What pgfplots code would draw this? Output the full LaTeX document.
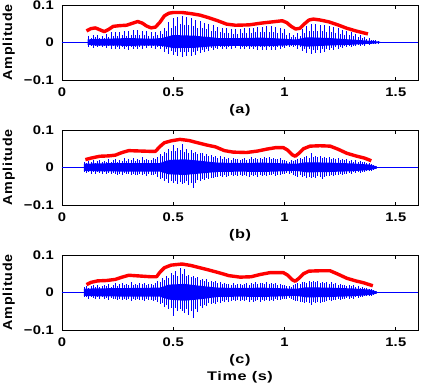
\documentclass[border=0pt]{standalone}
\usepackage{pgfplots}
\pgfplotsset{compat=1.18}
\usepackage{pgfplotstable}
\usepackage{fontspec}
\setmainfont{Liberation Sans}
\newfontfamily\tickfont{Liberation Sans}[FakeStretch=1.18, LetterSpace=2]
\newfontfamily\labfont{Liberation Sans}[FakeStretch=1.3, LetterSpace=5]
\newfontfamily\ylabfont{Liberation Sans}[FakeStretch=1.1, LetterSpace=6]

% peaks of the waveform: x, upper, lower
\pgfplotstableread[row sep=\\]{
x hi lo\\
0.12 0.018 -0.012\\ 0.13 0.012 -0.008\\ 0.14 0.020 -0.014\\ 0.15 0.014 -0.009\\ 0.16 0.019 -0.013\\
0.17 0.013 -0.008\\ 0.18 0.018 -0.012\\ 0.19 0.012 -0.008\\ 0.20 0.022 -0.014\\ 0.21 0.015 -0.010\\
0.22 0.027 -0.016\\ 0.23 0.018 -0.010\\ 0.24 0.028 -0.017\\ 0.25 0.017 -0.011\\ 0.26 0.029 -0.018\\
0.27 0.019 -0.012\\ 0.28 0.030 -0.018\\ 0.29 0.018 -0.011\\ 0.30 0.031 -0.019\\ 0.31 0.020 -0.012\\
0.32 0.033 -0.018\\ 0.33 0.021 -0.011\\ 0.34 0.034 -0.017\\ 0.35 0.019 -0.011\\ 0.36 0.032 -0.016\\
0.37 0.020 -0.010\\ 0.38 0.030 -0.015\\ 0.39 0.018 -0.010\\ 0.40 0.029 -0.015\\ 0.41 0.017 -0.010\\
0.42 0.028 -0.016\\ 0.43 0.019 -0.011\\ 0.44 0.030 -0.018\\ 0.45 0.022 -0.012\\ 0.46 0.040 -0.025\\
0.47 0.030 -0.018\\ 0.48 0.055 -0.030\\ 0.49 0.040 -0.022\\ 0.50 0.066 -0.034\\ 0.51 0.045 -0.024\\
0.52 0.068 -0.036\\ 0.53 0.050 -0.026\\ 0.54 0.070 -0.038\\ 0.55 0.048 -0.025\\ 0.56 0.068 -0.037\\
0.57 0.046 -0.026\\ 0.58 0.066 -0.035\\ 0.59 0.044 -0.024\\ 0.60 0.060 -0.032\\ 0.61 0.040 -0.022\\
0.62 0.057 -0.028\\ 0.63 0.038 -0.019\\ 0.64 0.053 -0.025\\ 0.65 0.035 -0.017\\ 0.66 0.050 -0.022\\
0.67 0.032 -0.015\\ 0.68 0.046 -0.020\\ 0.69 0.030 -0.014\\ 0.70 0.042 -0.018\\ 0.71 0.028 -0.012\\
0.72 0.040 -0.017\\ 0.73 0.026 -0.011\\ 0.74 0.038 -0.016\\ 0.75 0.025 -0.011\\ 0.76 0.037 -0.016\\
0.77 0.024 -0.010\\ 0.78 0.036 -0.015\\ 0.79 0.024 -0.010\\ 0.80 0.037 -0.016\\ 0.81 0.025 -0.011\\
0.82 0.038 -0.017\\ 0.83 0.026 -0.011\\ 0.84 0.039 -0.017\\ 0.85 0.025 -0.012\\ 0.86 0.040 -0.018\\
0.87 0.027 -0.012\\ 0.88 0.041 -0.019\\ 0.89 0.028 -0.012\\ 0.90 0.042 -0.020\\ 0.91 0.028 -0.013\\
0.92 0.043 -0.021\\ 0.93 0.027 -0.013\\ 0.94 0.044 -0.020\\ 0.95 0.028 -0.013\\ 0.96 0.042 -0.019\\
0.97 0.026 -0.012\\ 0.98 0.040 -0.018\\ 0.99 0.025 -0.011\\ 1.00 0.035 -0.015\\ 1.01 0.020 -0.010\\
1.02 0.025 -0.012\\ 1.03 0.015 -0.008\\ 1.04 0.020 -0.012\\ 1.05 0.014 -0.009\\ 1.06 0.025 -0.016\\
1.07 0.018 -0.012\\ 1.08 0.035 -0.022\\ 1.09 0.025 -0.016\\ 1.10 0.045 -0.027\\ 1.11 0.030 -0.018\\
1.12 0.050 -0.030\\ 1.13 0.032 -0.020\\ 1.14 0.049 -0.029\\ 1.15 0.031 -0.019\\ 1.16 0.048 -0.027\\
1.17 0.030 -0.018\\ 1.18 0.046 -0.024\\ 1.19 0.029 -0.016\\ 1.20 0.044 -0.021\\ 1.21 0.028 -0.014\\
1.22 0.041 -0.019\\ 1.23 0.026 -0.013\\ 1.24 0.038 -0.017\\ 1.25 0.024 -0.011\\ 1.26 0.034 -0.015\\
1.27 0.021 -0.010\\ 1.28 0.030 -0.013\\ 1.29 0.019 -0.009\\ 1.30 0.027 -0.012\\ 1.31 0.017 -0.008\\
1.32 0.024 -0.010\\ 1.33 0.015 -0.007\\ 1.34 0.020 -0.009\\ 1.35 0.012 -0.006\\ 1.36 0.015 -0.008\\
1.37 0.010 -0.005\\ 1.38 0.012 -0.006\\ 1.39 0.008 -0.004\\ 1.40 0.008 -0.004\\ 1.41 0.006 -0.003\\
1.42 0.004 -0.002\\
}\waveA

\pgfplotstableread[row sep=\\]{
x hi lo\\
0.10 0.015 -0.012\\ 0.11 0.012 -0.015\\ 0.12 0.018 -0.011\\ 0.13 0.014 -0.016\\ 0.14 0.020 -0.013\\
0.15 0.013 -0.017\\ 0.16 0.017 -0.012\\ 0.17 0.021 -0.015\\ 0.18 0.014 -0.018\\ 0.19 0.018 -0.013\\
0.20 0.016 -0.016\\ 0.21 0.022 -0.014\\ 0.22 0.015 -0.018\\ 0.23 0.019 -0.015\\ 0.24 0.024 -0.017\\
0.25 0.016 -0.020\\ 0.26 0.021 -0.016\\ 0.27 0.018 -0.019\\ 0.28 0.025 -0.015\\ 0.29 0.017 -0.018\\
0.30 0.022 -0.017\\ 0.31 0.019 -0.020\\ 0.32 0.026 -0.016\\ 0.33 0.018 -0.019\\ 0.34 0.023 -0.021\\
0.35 0.020 -0.017\\ 0.36 0.027 -0.020\\ 0.37 0.019 -0.018\\ 0.38 0.024 -0.022\\ 0.39 0.021 -0.017\\
0.40 0.020 -0.019\\ 0.41 0.025 -0.021\\ 0.42 0.022 -0.018\\ 0.43 0.028 -0.024\\ 0.44 0.035 -0.030\\
0.45 0.030 -0.027\\ 0.46 0.042 -0.036\\ 0.47 0.038 -0.031\\ 0.48 0.050 -0.040\\ 0.49 0.045 -0.035\\
0.50 0.060 -0.042\\ 0.51 0.044 -0.036\\ 0.52 0.052 -0.045\\ 0.53 0.048 -0.038\\ 0.54 0.063 -0.043\\
0.55 0.042 -0.040\\ 0.56 0.050 -0.037\\ 0.57 0.040 -0.046\\ 0.58 0.046 -0.041\\ 0.59 0.038 -0.055\\
0.60 0.042 -0.040\\ 0.61 0.035 -0.034\\ 0.62 0.038 -0.036\\ 0.63 0.040 -0.030\\ 0.64 0.032 -0.033\\
0.65 0.036 -0.028\\ 0.66 0.030 -0.031\\ 0.67 0.033 -0.027\\ 0.68 0.028 -0.029\\ 0.69 0.031 -0.025\\
0.70 0.026 -0.026\\ 0.71 0.030 -0.023\\ 0.72 0.024 -0.025\\ 0.73 0.027 -0.021\\ 0.74 0.022 -0.024\\
0.75 0.025 -0.022\\ 0.76 0.021 -0.020\\ 0.77 0.026 -0.023\\ 0.78 0.022 -0.019\\ 0.79 0.024 -0.022\\
0.80 0.020 -0.020\\ 0.81 0.023 -0.023\\ 0.82 0.025 -0.019\\ 0.83 0.021 -0.022\\ 0.84 0.024 -0.024\\
0.85 0.027 -0.020\\ 0.86 0.022 -0.023\\ 0.87 0.025 -0.021\\ 0.88 0.023 -0.025\\ 0.89 0.026 -0.020\\
0.90 0.024 -0.022\\ 0.91 0.028 -0.019\\ 0.92 0.025 -0.023\\ 0.93 0.027 -0.020\\ 0.94 0.023 -0.021\\
0.95 0.026 -0.018\\ 0.96 0.024 -0.022\\ 0.97 0.022 -0.019\\ 0.98 0.025 -0.020\\ 0.99 0.021 -0.017\\
1.00 0.020 -0.018\\ 1.01 0.018 -0.015\\ 1.02 0.016 -0.017\\ 1.03 0.019 -0.014\\ 1.04 0.017 -0.019\\
1.05 0.021 -0.022\\ 1.06 0.023 -0.024\\ 1.07 0.026 -0.021\\ 1.08 0.024 -0.026\\ 1.09 0.028 -0.023\\
1.10 0.030 -0.027\\ 1.11 0.026 -0.024\\ 1.12 0.040 -0.029\\ 1.13 0.028 -0.025\\ 1.14 0.031 -0.028\\
1.15 0.027 -0.023\\ 1.16 0.030 -0.026\\ 1.17 0.026 -0.030\\ 1.18 0.029 -0.024\\ 1.19 0.025 -0.022\\
1.20 0.027 -0.023\\ 1.21 0.024 -0.020\\ 1.22 0.026 -0.022\\ 1.23 0.022 -0.019\\ 1.24 0.025 -0.021\\
1.25 0.021 -0.017\\ 1.26 0.023 -0.019\\ 1.27 0.020 -0.016\\ 1.28 0.022 -0.018\\ 1.29 0.018 -0.015\\
1.30 0.020 -0.016\\ 1.31 0.016 -0.013\\ 1.32 0.021 -0.015\\ 1.33 0.015 -0.012\\ 1.34 0.018 -0.014\\
1.35 0.014 -0.011\\ 1.36 0.016 -0.012\\ 1.37 0.012 -0.009\\ 1.38 0.013 -0.010\\ 1.39 0.010 -0.008\\
1.40 0.008 -0.006\\ 1.41 0.005 -0.004\\
}\waveB

\pgfplotstableread[row sep=\\]{
x hi lo\\
0.10 0.014 -0.013\\ 0.11 0.018 -0.011\\ 0.12 0.013 -0.016\\ 0.13 0.017 -0.012\\ 0.14 0.020 -0.015\\
0.15 0.015 -0.018\\ 0.16 0.019 -0.013\\ 0.17 0.014 -0.016\\ 0.18 0.018 -0.012\\ 0.19 0.021 -0.017\\
0.20 0.017 -0.015\\ 0.21 0.023 -0.019\\ 0.22 0.016 -0.014\\ 0.23 0.020 -0.018\\ 0.24 0.025 -0.016\\
0.25 0.018 -0.021\\ 0.26 0.022 -0.017\\ 0.27 0.026 -0.020\\ 0.28 0.019 -0.016\\ 0.29 0.024 -0.019\\
0.30 0.021 -0.018\\ 0.31 0.027 -0.022\\ 0.32 0.020 -0.017\\ 0.33 0.024 -0.020\\ 0.34 0.019 -0.018\\
0.35 0.026 -0.021\\ 0.36 0.022 -0.019\\ 0.37 0.025 -0.023\\ 0.38 0.020 -0.018\\ 0.39 0.023 -0.020\\
0.40 0.024 -0.019\\ 0.41 0.021 -0.022\\ 0.42 0.026 -0.020\\ 0.43 0.030 -0.026\\ 0.44 0.028 -0.031\\
0.45 0.038 -0.028\\ 0.46 0.034 -0.038\\ 0.47 0.045 -0.033\\ 0.48 0.040 -0.045\\ 0.49 0.052 -0.040\\
0.50 0.048 -0.062\\ 0.51 0.058 -0.042\\ 0.52 0.045 -0.050\\ 0.53 0.066 -0.045\\ 0.54 0.050 -0.048\\
0.55 0.062 -0.055\\ 0.56 0.044 -0.044\\ 0.57 0.048 -0.060\\ 0.58 0.041 -0.050\\ 0.59 0.045 -0.068\\
0.60 0.038 -0.045\\ 0.61 0.042 -0.052\\ 0.62 0.034 -0.036\\ 0.63 0.037 -0.040\\ 0.64 0.031 -0.032\\
0.65 0.035 -0.035\\ 0.66 0.029 -0.029\\ 0.67 0.032 -0.031\\ 0.68 0.027 -0.027\\ 0.69 0.030 -0.030\\
0.70 0.025 -0.025\\ 0.71 0.028 -0.027\\ 0.72 0.023 -0.023\\ 0.73 0.026 -0.026\\ 0.74 0.022 -0.021\\
0.75 0.024 -0.024\\ 0.76 0.020 -0.022\\ 0.77 0.025 -0.020\\ 0.78 0.021 -0.023\\ 0.79 0.023 -0.021\\
0.80 0.022 -0.022\\ 0.81 0.020 -0.019\\ 0.82 0.024 -0.023\\ 0.83 0.026 -0.021\\ 0.84 0.021 -0.025\\
0.85 0.025 -0.020\\ 0.86 0.023 -0.024\\ 0.87 0.027 -0.022\\ 0.88 0.022 -0.021\\ 0.89 0.025 -0.025\\
0.90 0.026 -0.021\\ 0.91 0.023 -0.023\\ 0.92 0.027 -0.019\\ 0.93 0.024 -0.022\\ 0.94 0.025 -0.020\\
0.95 0.022 -0.023\\ 0.96 0.026 -0.018\\ 0.97 0.021 -0.021\\ 0.98 0.024 -0.019\\ 0.99 0.020 -0.018\\
1.00 0.019 -0.016\\ 1.01 0.017 -0.018\\ 1.02 0.018 -0.015\\ 1.03 0.016 -0.017\\ 1.04 0.020 -0.020\\
1.05 0.022 -0.023\\ 1.06 0.025 -0.022\\ 1.07 0.023 -0.025\\ 1.08 0.027 -0.024\\ 1.09 0.029 -0.027\\
1.10 0.026 -0.025\\ 1.11 0.031 -0.028\\ 1.12 0.028 -0.032\\ 1.13 0.032 -0.026\\ 1.14 0.027 -0.029\\
1.15 0.030 -0.025\\ 1.16 0.025 -0.027\\ 1.17 0.029 -0.024\\ 1.18 0.026 -0.026\\ 1.19 0.028 -0.023\\
1.20 0.024 -0.021\\ 1.21 0.027 -0.023\\ 1.22 0.022 -0.019\\ 1.23 0.025 -0.021\\ 1.24 0.021 -0.018\\
1.25 0.023 -0.020\\ 1.26 0.019 -0.016\\ 1.27 0.021 -0.018\\ 1.28 0.018 -0.015\\ 1.29 0.020 -0.017\\
1.30 0.017 -0.014\\ 1.31 0.019 -0.016\\ 1.32 0.015 -0.012\\ 1.33 0.017 -0.014\\ 1.34 0.013 -0.011\\
1.35 0.015 -0.012\\ 1.36 0.011 -0.009\\ 1.37 0.012 -0.010\\ 1.38 0.009 -0.008\\ 1.39 0.010 -0.009\\
1.40 0.007 -0.006\\ 1.41 0.004 -0.004\\
}\waveC

\pgfplotsset{
  panel/.style={
    scale only axis, width=356pt, height=75pt,
    xmin=0, xmax=1.6, ymin=-0.1, ymax=0.1,
    xtick={0,0.5,1,1.5}, xticklabels={0,0.5,1,1.5},
    ytick={-0.1,0,0.1}, yticklabels={−0.1,0,0.1},
    tick align=inside, major tick length=3.5pt,
    axis line style={line width=0.6pt}, tick style={line width=0.6pt, black},
    tick label style={font=\fontsize{12.5}{12.5}\selectfont\tickfont\bfseries, inner sep=0pt},
    xticklabel style={yshift=-8pt},
    yticklabel style={xshift=-8pt},
    ylabel={Amplitude},
    ylabel style={at={(axis description cs:0,0.5)}, anchor=south, inner sep=0pt, yshift=47pt,
      font=\fontsize{13}{13}\selectfont\ylabfont\bfseries},
    xlabel style={at={(axis description cs:0.5,0)}, anchor=north, inner sep=0pt, yshift=-24pt,
      align=center, font=\fontsize{12.5}{17.5}\selectfont\labfont\bfseries},
  },
  spike/.style={blue, ycomb, line width=0.8pt},
  env/.style={red, line width=3.4pt, line join=round},
}

\begin{document}
\begin{tikzpicture}
\useasboundingbox (-62pt,80pt) rectangle (360pt,-304pt);
% (a)
\begin{axis}[panel, at={(0,0)}, xlabel={(a)}]
\addplot[blue, line width=0.6pt] coordinates {(0,0) (1.6,0)};
\addplot[fill=blue, draw=none] coordinates {
 (0.115,0.008) (0.15,0.010) (0.2,0.010) (0.3,0.012) (0.4,0.010) (0.45,0.012) (0.5,0.020) (0.6,0.018)
 (0.7,0.012) (0.8,0.012) (0.9,0.013) (1.0,0.010) (1.05,0.008) (1.1,0.014) (1.2,0.012) (1.3,0.008)
 (1.4,0.004) (1.43,0.002) (1.43,-0.001) (1.4,-0.003) (1.3,-0.006) (1.2,-0.008) (1.1,-0.011)
 (1.05,-0.006) (1.0,-0.008) (0.9,-0.010) (0.8,-0.009) (0.7,-0.009) (0.6,-0.014) (0.5,-0.015)
 (0.45,-0.009) (0.4,-0.008) (0.3,-0.009) (0.2,-0.008) (0.15,-0.008) (0.115,-0.006)};
\addplot[spike] table[x=x, y=hi] {\waveA};
\addplot[spike] table[x=x, y=lo] {\waveA};
\addplot[env] coordinates {
 (0.11,0.031) (0.13,0.037) (0.15,0.039) (0.17,0.034) (0.19,0.029) (0.21,0.035) (0.23,0.043)
 (0.26,0.045) (0.29,0.046) (0.32,0.052) (0.34,0.056) (0.36,0.052) (0.38,0.044) (0.40,0.039)
 (0.42,0.041) (0.44,0.054) (0.46,0.071) (0.48,0.078) (0.50,0.080) (0.54,0.080) (0.58,0.077)
 (0.62,0.073) (0.66,0.066) (0.70,0.058) (0.74,0.049) (0.78,0.046) (0.84,0.047) (0.90,0.052)
 (0.96,0.056) (0.99,0.058) (1.01,0.053) (1.03,0.043) (1.05,0.036) (1.07,0.038) (1.09,0.050)
 (1.11,0.060) (1.13,0.0625) (1.16,0.060) (1.20,0.055) (1.24,0.047) (1.28,0.038) (1.32,0.031)
 (1.36,0.025) (1.375,0.023)};
\end{axis}
% (b)
\begin{axis}[panel, at={(0,-125pt)}, xlabel={(b)}]
\addplot[blue, line width=0.6pt] coordinates {(0,0) (1.6,0)};
\addplot[fill=blue, draw=none] coordinates {
 (0.098,0.010) (0.15,0.011) (0.3,0.012) (0.44,0.012) (0.48,0.020) (0.55,0.022) (0.62,0.018)
 (0.7,0.013) (0.8,0.012) (0.9,0.013) (1.0,0.011) (1.05,0.010) (1.1,0.014) (1.2,0.013) (1.3,0.011)
 (1.38,0.008) (1.415,0.003) (1.415,-0.003) (1.38,-0.007) (1.3,-0.010) (1.2,-0.012) (1.1,-0.013)
 (1.05,-0.009) (1.0,-0.010) (0.9,-0.012) (0.8,-0.011) (0.7,-0.012) (0.62,-0.016) (0.55,-0.020)
 (0.48,-0.018) (0.44,-0.011) (0.3,-0.011) (0.15,-0.010) (0.098,-0.009)};
\addplot[spike] table[x=x, y=hi] {\waveB};
\addplot[spike] table[x=x, y=lo] {\waveB};
\addplot[env] coordinates {
 (0.105,0.021) (0.13,0.025) (0.17,0.030) (0.21,0.031) (0.24,0.033) (0.27,0.040) (0.30,0.045)
 (0.35,0.044) (0.40,0.043) (0.42,0.043) (0.44,0.056) (0.46,0.066) (0.49,0.071) (0.53,0.075)
 (0.57,0.072) (0.61,0.066) (0.65,0.060) (0.69,0.055) (0.73,0.045) (0.77,0.041) (0.83,0.040)
 (0.88,0.044) (0.92,0.049) (0.96,0.053) (0.995,0.053) (1.015,0.046) (1.035,0.034) (1.048,0.030)
 (1.065,0.038) (1.085,0.050) (1.115,0.057) (1.16,0.058) (1.205,0.057) (1.24,0.049) (1.28,0.038)
 (1.32,0.031) (1.36,0.025) (1.39,0.018)};
\end{axis}
% (c)
\begin{axis}[panel, at={(0,-250pt)}, xlabel={(c)\\Time (s)}]
\addplot[blue, line width=0.6pt] coordinates {(0,0) (1.6,0)};
\addplot[fill=blue, draw=none] coordinates {
 (0.098,0.010) (0.15,0.011) (0.3,0.012) (0.44,0.013) (0.48,0.021) (0.55,0.023) (0.62,0.018)
 (0.7,0.013) (0.8,0.012) (0.9,0.013) (1.0,0.011) (1.05,0.010) (1.1,0.014) (1.2,0.013) (1.3,0.011)
 (1.38,0.008) (1.415,0.003) (1.415,-0.003) (1.38,-0.007) (1.3,-0.010) (1.2,-0.012) (1.1,-0.013)
 (1.05,-0.009) (1.0,-0.010) (0.9,-0.012) (0.8,-0.011) (0.7,-0.012) (0.62,-0.018) (0.55,-0.022)
 (0.48,-0.019) (0.44,-0.011) (0.3,-0.011) (0.15,-0.010) (0.098,-0.009)};
\addplot[spike] table[x=x, y=hi] {\waveC};
\addplot[spike] table[x=x, y=lo] {\waveC};
\addplot[env] coordinates {
 (0.11,0.021) (0.13,0.027) (0.16,0.031) (0.20,0.032) (0.24,0.035) (0.27,0.041) (0.30,0.046)
 (0.35,0.044) (0.40,0.042) (0.425,0.042) (0.44,0.054) (0.46,0.066) (0.49,0.073) (0.54,0.076)
 (0.58,0.072) (0.62,0.066) (0.66,0.060) (0.71,0.052) (0.75,0.045) (0.80,0.041) (0.85,0.042)
 (0.89,0.048) (0.935,0.053) (0.995,0.053) (1.015,0.046) (1.035,0.034) (1.048,0.030) (1.065,0.038)
 (1.085,0.050) (1.11,0.057) (1.16,0.058) (1.205,0.058) (1.24,0.049) (1.28,0.038) (1.32,0.031)
 (1.355,0.026) (1.397,0.018)};
\end{axis}
\end{tikzpicture}
\end{document}
